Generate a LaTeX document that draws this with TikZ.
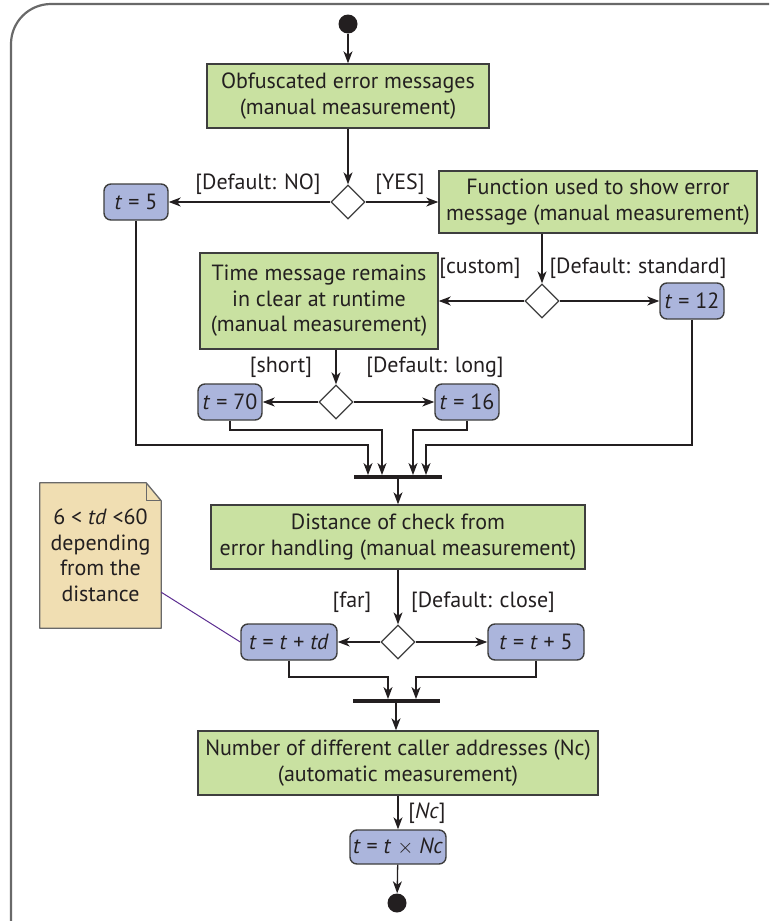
\documentclass[tikz,border=0pt]{standalone}
\usepackage{fontspec}
\setmainfont{PT Sans}
\usepackage{tikz}
\usetikzlibrary{arrows.meta,positioning,calc,shapes.geometric}
\definecolor{actgreen}{RGB}{201,225,161}
\definecolor{actblue}{RGB}{171,181,220}
\definecolor{notetan}{RGB}{240,222,178}
\definecolor{edgegray}{RGB}{62,62,62}
\definecolor{inkgray}{RGB}{35,31,32}
\definecolor{framegray}{RGB}{105,105,105}
\definecolor{notepurple}{RGB}{92,45,145}

\begin{document}
\begin{tikzpicture}[x=1pt,y=-1pt,
  font=\fontsize{22}{25.5}\selectfont,
  activity/.style={draw=edgegray,line width=1.4pt,fill=actgreen,text=inkgray,align=center,inner sep=0pt},
  assign/.style={draw=edgegray,line width=1.4pt,fill=actblue,text=inkgray,rounded corners=7pt,minimum width=64pt,minimum height=36pt,inner sep=0pt},
  decision/.style={diamond,draw=edgegray,line width=1.3pt,fill=white,minimum width=34pt,minimum height=34pt,inner sep=0pt,aspect=1},
  guard/.style={text=inkgray,inner sep=0pt},
  joinbar/.style={fill=inkgray,minimum width=88pt,minimum height=3.5pt,inner sep=0pt},
  terminal/.style={circle,fill=inkgray,minimum size=19pt,inner sep=0pt},
  flow/.style={-{Stealth[length=12pt,width=9pt,inset=3.5pt]},draw=inkgray,line width=1.3pt},
  notebox/.style={fill=notetan,text=inkgray,align=center,inner sep=0pt,minimum width=121pt,minimum height=145pt},
  noteedge/.style={draw=framegray,line width=1.3pt,line join=round},
  noteline/.style={draw=notepurple,line width=1pt}]

\path[use as bounding box] (0,0) rectangle (769,921);
\draw[draw=framegray,line width=2.2pt,rounded corners=40pt] (11,921) -- (11,4) -- (769,4);

\node[terminal] (start) at (348,24) {};
\node[activity,minimum width=282pt,minimum height=64pt] (obf) at (348,96)
  {Obfuscated error messages\\(manual measurement)};
\node[decision] (dObf) at (348,202) {};
\node[assign] (tFive) at (136,202) {\textit{t} = 5};
\node[activity,minimum width=318pt,minimum height=62pt] (fun) at (598,202)
  {Function used to show error\\message (manual measurement)};
\node[guard] (gNo) at (258,184) {[Default: NO]};
\node[guard] (gYes) at (400,184) {[YES]};
\draw[flow] (start) -- (obf);
\draw[flow] (obf) -- (dObf);
\draw[flow] (dObf) -- (tFive);
\draw[flow] (dObf) -- (fun);

\node[decision] (dFun) at (542,301) {};
\node[activity,minimum width=238pt,minimum height=96pt] (clear) at (319,301)
  {Time message remains\\in clear at runtime\\(manual measurement)};
\node[assign] (tTwelve) at (692,301) {\textit{t} = 12};
\node[guard] (gCustom) at (480,268) {[custom]};
\node[guard] (gStandard) at (638,268) {[Default: standard]};
\draw[flow] (fun.south -| dFun) -- (dFun);
\draw[flow] (dFun) -- (clear);
\draw[flow] (dFun) -- (tTwelve);

\node[decision] (dClear) at (336,402) {};
\node[assign] (tSeventy) at (230,402) {\textit{t} = 70};
\node[assign] (tSixteen) at (467,402) {\textit{t} = 16};
\node[guard] (gShort) at (281,367) {[short]};
\node[guard] (gLong) at (435,367) {[Default: long]};
\draw[flow] (clear.south -| dClear) -- (dClear);
\draw[flow] (dClear) -- (tSeventy);
\draw[flow] (dClear) -- (tSixteen);

\node[joinbar] (barA) at (398,477) {};
\draw[flow] (tFive.south) |- ([shift={(-30,-30)}]barA.north) -- ([xshift=-30pt]barA.north);
\draw[flow] (tSeventy.south) |- ([shift={(-16,-45)}]barA.north) -- ([xshift=-16pt]barA.north);
\draw[flow] (tSixteen.south) |- ([shift={(15,-45)}]barA.north) -- ([xshift=15pt]barA.north);
\draw[flow] (tTwelve.south) |- ([shift={(28,-30)}]barA.north) -- ([xshift=28pt]barA.north);

\node[activity,minimum width=374pt,minimum height=64pt] (dist) at (398,537)
  {Distance of check from\\error handling (manual measurement)};
\draw[flow] (barA.south) -- (dist);
\node[decision] (dDist) at (398,642) {};
\node[assign,minimum width=96pt] (tFar) at (289,642) {\textit{t} = \textit{t} + \textit{td}};
\node[assign,minimum width=96pt] (tClose) at (536,642) {\textit{t} = \textit{t} + 5};
\node[guard] (gFar) at (352,602) {[far]};
\node[guard] (gClose) at (483,602) {[Default: close]};
\draw[flow] (dist) -- (dDist);
\draw[flow] (dDist) -- (tFar);
\draw[flow] (dDist) -- (tClose);

\node[notebox] (note) at (100.5,555.5) {6 < \textit{td} <60\\depending\\from the\\distance};
\fill[white] ([xshift=-15pt]note.north east) -- (note.north east) -- ([yshift=-18pt]note.north east) -- cycle;
\draw[noteedge] (note.south west) -- (note.north west) -- ([xshift=-15pt]note.north east)
  -- ([yshift=-18pt]note.north east) -- (note.south east) -- cycle;
\draw[noteedge] ([xshift=-15pt]note.north east) |- ([yshift=-18pt]note.north east);
\draw[noteline] ([yshift=36pt]note.south east) -- (tFar.west);

\node[joinbar,minimum width=87pt] (barB) at (396,701) {};
\draw[flow] (tFar.south) |- ([shift={(-8,-22)}]barB.north) -- ([xshift=-8pt]barB.north);
\draw[flow] (tClose.south) |- ([shift={(20,-22)}]barB.north) -- ([xshift=20pt]barB.north);

\node[activity,minimum width=400pt,minimum height=64pt] (callers) at (398,763)
  {Number of different caller addresses (Nc)\\(automatic measurement)};
\draw[flow] (barB.south) -- (barB.south |- callers.north);
\node[assign,minimum width=96pt,minimum height=34pt] (tNc) at (398,847)
  {\textit{t} = \textit{t} $\times$ \textit{Nc}};
\node[guard] (gNc) at (427,813) {[\textit{Nc}]};
\draw[flow] (callers) -- (tNc);
\node[terminal] (stop) at (397,903) {};
\draw[flow] (tNc) -- (stop);

\end{tikzpicture}
\end{document}
